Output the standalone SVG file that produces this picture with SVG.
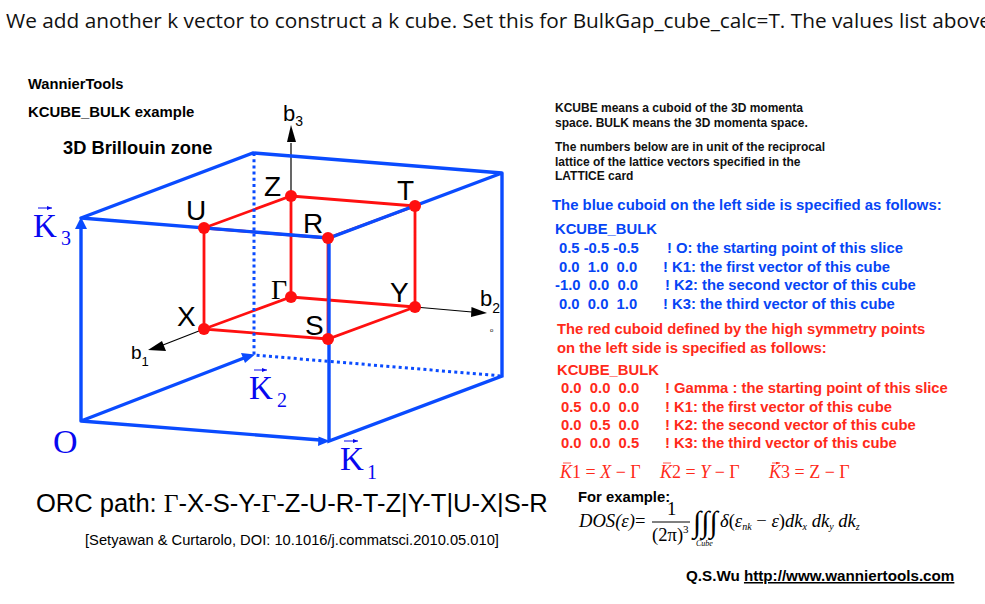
<svg xmlns="http://www.w3.org/2000/svg" width="985" height="604" viewBox="0 0 985 604">
<style>
text{font-family:"Liberation Sans",Arial,sans-serif;white-space:pre}
.b{font-weight:bold}
.s{font-family:"Liberation Serif","Times New Roman",serif}
.i{font-style:italic}
.lab{font-size:28px;fill:#000}
.p{font-weight:bold;font-size:12px;fill:#111}
.bt{fill:#0645f5;font-weight:bold;font-size:14.8px}
.rt{fill:#ff2a1a;font-weight:bold;font-size:14.8px}
.k{font-family:"Liberation Serif",serif;fill:#0808f0}
.e{stroke:#0a4bff;stroke-width:3.4;fill:none;stroke-linecap:round}
.d{stroke:#0a4bff;stroke-width:3;fill:none;stroke-dasharray:3 3.2}
.r{stroke:#ff1010;stroke-width:2.8;fill:none}
.a{stroke:#000;stroke-width:1.2;fill:none}
.n{fill:#ff0f0f}
.f{font-family:"Liberation Serif",serif;font-size:18.6px;fill:#000}
.rf{font-family:"Liberation Serif",serif;font-size:18px;fill:#ff2a1a}
.va{stroke:#0808f0;stroke-width:1;fill:none;marker-end:url(#ak)}
.vr{stroke:#ff2a1a;stroke-width:.8;fill:none;marker-end:url(#ar)}
</style>
<defs>
<marker id="ak" viewBox="0 0 10 10" refX="10" refY="5" markerWidth="5" markerHeight="4" markerUnits="userSpaceOnUse" orient="auto" preserveAspectRatio="none"><path d="M0 0L10 5L0 10z" fill="#0808f0"/></marker>
<marker id="ar" viewBox="0 0 10 10" refX="10" refY="5" markerWidth="4" markerHeight="3" markerUnits="userSpaceOnUse" orient="auto" preserveAspectRatio="none"><path d="M0 0L10 5L0 10z" fill="#ff2a1a"/></marker>
</defs>
<rect width="985" height="604" fill="#fff"/>
<text x="6" y="28" style="font-family:'Open Sans',sans-serif;font-size:20.8px" fill="#111">We add another k vector to construct a k cube. Set this for BulkGap_cube_calc=T. The values list above</text>
<text class="b" x="28" y="89" font-size="14.700">WannierTools</text>
<text class="b" x="28" y="117" font-size="14.900">KCUBE_BULK example</text>
<text class="b" x="63" y="154" font-size="18.300">3D Brillouin zone</text>
<g id="connectors">
<path class="a" d="M291 196V143"/><path d="M291 125L296 142H287z"/>
<path class="a" d="M415 307L472 312"/><path d="M487 313L471 317L471.500 307z"/>
<path class="a" d="M204 329L163 345"/><path d="M148 350L162 341L166 351z"/>
<path class="r" d="M204 329L291 297L415 307L328 339zM204 228L291 196L415 206L328 238zM204 329V228M291 297V196M415 307V206M328 339V238"/>
<path class="d" d="M254 153V355L502 376"/>
<path class="e" d="M81 421V228M81 421L244 358M81 421L320 440M81 218L253 153L502 173L329 238L81 218M329 238V441L502 376V173"/>
<path d="M81 217L87 229H75z" fill="#0a4bff"/>
<path d="M255 354.500L245 363L241 353z" fill="#0a4bff"/>
<path d="M330 441L318 446L318.500 436.500z" fill="#0a4bff"/>
</g>
<g id="node-X"><circle class="n" cx="204" cy="329" r="6"/><text class="lab" x="177" y="326">X</text></g>
<g id="node-U"><circle class="n" cx="204" cy="228" r="6"/><text class="lab" x="186" y="220">U</text></g>
<g id="node-Z"><circle class="n" cx="291" cy="196" r="6"/><text class="lab" x="264" y="196">Z</text></g>
<g id="node-G"><circle class="n" cx="291" cy="297" r="6"/><text class="lab s" x="271" y="299">Γ</text></g>
<g id="node-T"><circle class="n" cx="415" cy="206" r="6"/><text class="lab" x="397" y="200">T</text></g>
<g id="node-Y"><circle class="n" cx="415" cy="307" r="6"/><text class="lab" x="390" y="302">Y</text></g>
<g id="node-R"><circle class="n" cx="328" cy="238" r="6"/><text class="lab" x="303" y="233">R</text></g>
<g id="node-S"><circle class="n" cx="328" cy="339" r="6"/><text class="lab" x="305" y="335">S</text></g>
<text x="283" y="121" font-size="22">b<tspan font-size="14" dy="5">3</tspan></text>
<text x="480" y="306" font-size="22">b<tspan font-size="14" dy="7">2</tspan></text>
<text x="131" y="359" font-size="19">b<tspan font-size="13" dy="7">1</tspan></text>
<text x="490" y="332" font-size="6">o</text>
<g id="vector-labels">
<text class="k" x="33" y="237" font-size="33">K</text><text class="k" x="61" y="245" font-size="20">3</text><path class="va" d="M38 208H52"/>
<text class="k" x="249" y="399" font-size="33">K</text><text class="k" x="277" y="407" font-size="20">2</text><path class="va" d="M254 370H267"/>
<text class="k" x="340" y="470" font-size="33">K</text><text class="k" x="367" y="479" font-size="20">1</text><path class="va" d="M344 441H358"/>
<text class="k" x="53" y="453" font-size="34">O</text>
</g>
<text x="36" y="511.500" font-size="25.550">ORC path: <tspan class="s">Γ</tspan>-X-S-Y-<tspan class="s">Γ</tspan>-Z-U-R-T-Z|Y-T|U-X|S-R</text>
<text x="85" y="545" font-size="14.700">[Setyawan &amp; Curtarolo, DOI: 10.1016/j.commatsci.2010.05.010]</text>
<text class="p" x="555" y="112">KCUBE means a cuboid of the 3D momenta</text>
<text class="p" x="555" y="127">space. BULK means the 3D momenta space.</text>
<text class="p" x="555" y="151">The numbers below are in unit of the reciprocal</text>
<text class="p" x="555" y="166">lattice of the lattice vectors specified in the</text>
<text class="p" x="555" y="180">LATTICE card</text>
<text class="bt" x="552" y="210" style="font-size:14.9px">The blue cuboid on the left side is specified as follows:</text>
<text class="bt" x="555" y="234">KCUBE_BULK</text>
<text class="bt" x="559" y="253">0.5 -0.5 -0.5</text><text class="bt" x="667" y="253">! O: the starting point of this slice</text>
<text class="bt" x="559" y="272">0.0  1.0  0.0</text><text class="bt" x="663" y="272">! K1: the first vector of this cube</text>
<text class="bt" x="555" y="290">-1.0  0.0  0.0</text><text class="bt" x="665" y="290">! K2: the second vector of this cube</text>
<text class="bt" x="559" y="309">0.0  0.0  1.0</text><text class="bt" x="663" y="309">! K3: the third vector of this cube</text>
<text class="rt" x="557" y="334">The red cuboid defined by the high symmetry points</text>
<text class="rt" x="557" y="353">on the left side is specified as follows:</text>
<text class="rt" x="557" y="375">KCUBE_BULK</text>
<text class="rt" x="561" y="393">0.0  0.0  0.0</text><text class="rt" x="665" y="393">! Gamma : the starting point of this slice</text>
<text class="rt" x="561" y="412">0.5  0.0  0.0</text><text class="rt" x="665" y="412">! K1: the first vector of this cube</text>
<text class="rt" x="561" y="430">0.0  0.5  0.0</text><text class="rt" x="665" y="430">! K2: the second vector of this cube</text>
<text class="rt" x="561" y="448">0.0  0.0  0.5</text><text class="rt" x="665" y="448">! K3: the third vector of this cube</text>
<text class="rf" x="560" y="478"><tspan class="i">K</tspan>1 = <tspan class="i">X</tspan> − Γ</text>
<text class="rf" x="660" y="478"><tspan class="i">K</tspan>2 = <tspan class="i">Y</tspan> − Γ</text>
<text class="rf" x="769" y="478"><tspan class="i">K</tspan>3 = Z − Γ</text>
<path class="vr" d="M563 463H571M663 463H671M772 463H780"/>
<text class="b" x="578" y="502" font-size="14.800">For example:</text>
<text class="f i" x="579" y="527">DOS(ε)</text>
<text class="f" x="635" y="527">=</text>
<text class="f" x="667" y="515">1</text>
<path d="M652 522H690" stroke="#000" stroke-width="1"/>
<text class="f" x="652" y="541">(2π)<tspan font-size="11" dy="-8">3</tspan></text>
<text class="f" x="693" y="532" style="font-size:30px">∫∫∫</text>
<text class="f i" x="696" y="546" style="font-size:8px">Cube</text>
<text class="f" x="720" y="527"><tspan class="i">δ</tspan>(<tspan class="i">ε</tspan><tspan class="i" font-size="10" dy="3">nk</tspan><tspan dy="-3"> − </tspan><tspan class="i">ε</tspan>)<tspan class="i">dk</tspan><tspan class="i" font-size="10" dy="3">x</tspan><tspan class="i" dy="-3"> dk</tspan><tspan class="i" font-size="10" dy="3">y</tspan><tspan class="i" dy="-3"> dk</tspan><tspan class="i" font-size="10" dy="3">z</tspan></text>
<text class="b" x="686" y="581" font-size="15.200">Q.S.Wu <tspan text-decoration="underline">http://www.wanniertools.com</tspan></text>
</svg>
